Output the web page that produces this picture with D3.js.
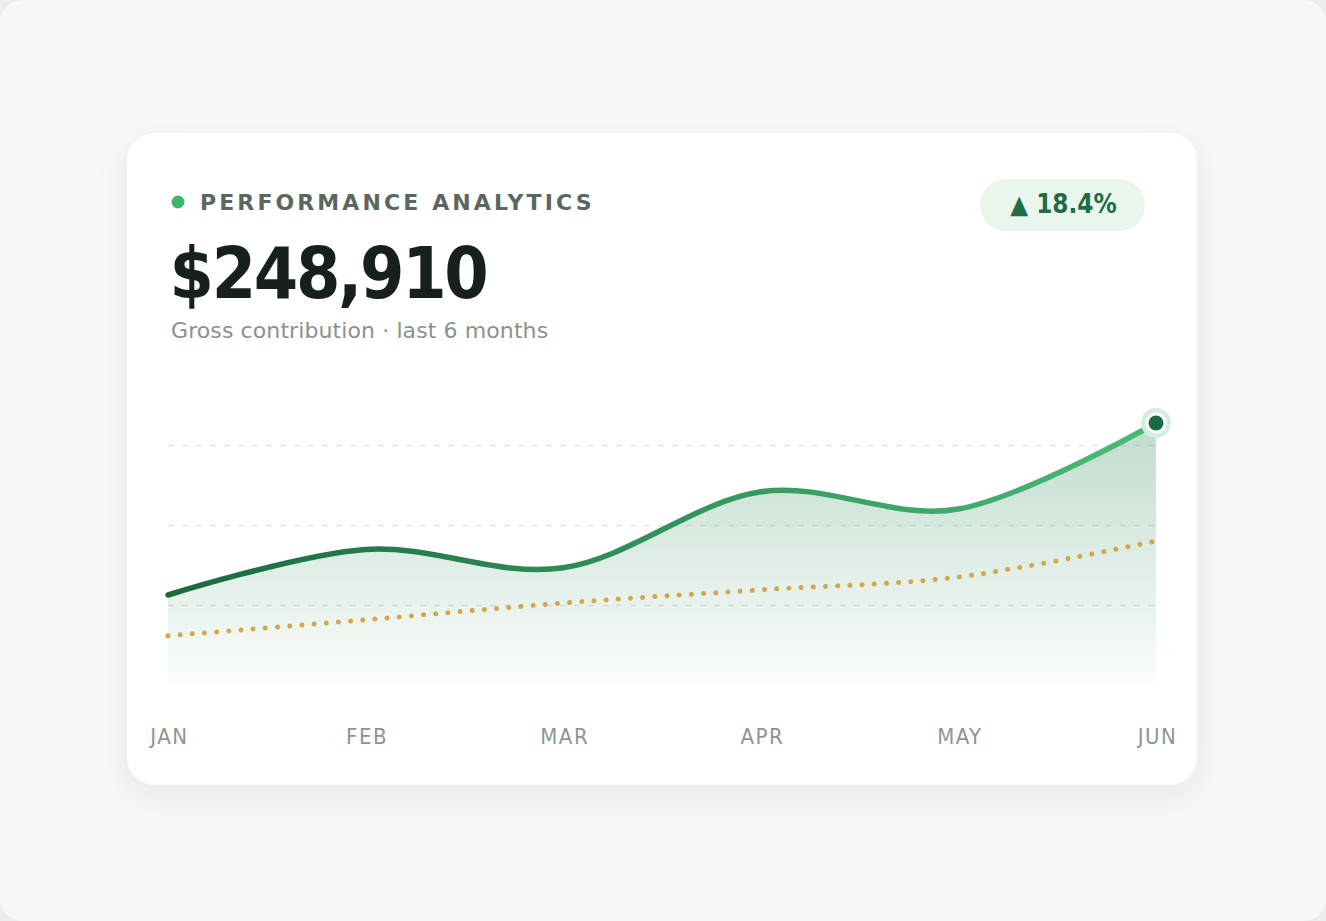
<!DOCTYPE html>
<html>
<head>
<meta charset="utf-8">
<script src="https://cdn.jsdelivr.net/npm/d3@7"></script>
<style>
  html, body { margin: 0; padding: 0; background: #ececec; }
  #frame { width: 1326px; height: 921px; border-radius: 22px; overflow: hidden; background: #f6f7f7; }
  svg { display: block; }
</style>
</head>
<body>
<div id="frame"><svg id="chart"></svg></div>
<script>
// ---- data ----
const months = ["JAN", "FEB", "MAR", "APR", "MAY", "JUN"];
const contribution = [22.5, 33.9, 29.3, 48.3, 44.0, 65.5];   // $K per month
const baseline = [12.3, 16.3, 20.5, 23.8, 27.0, 36.0];       // dotted comparison series
const gridTicks = [20, 40, 60];
const yMax = 80;

const title = "PERFORMANCE ANALYTICS";
const total = "$248,910";
const subtitle = "Gross contribution \u00b7 last 6 months";
const change = "\u25b2 18.4%";

// ---- setup ----
const w = 1326;
const h = 921;
const card = {x: 127, y: 133, w: 1070, h: 652, r: 28};
const plot = {left: 168, right: 1156, top: 365, bottom: 685};
const condensed = "'DejaVu Sans Condensed', 'DejaVu Sans'";

const svg = d3.select("#chart")
  .attr("width", w)
  .attr("height", h);

const defs = svg.append("defs");

const shadow = defs.append("filter")
  .attr("id", "cardShadow")
  .attr("x", "-10%").attr("y", "-10%")
  .attr("width", "120%").attr("height", "130%");
shadow.append("feDropShadow")
  .attr("dx", 0).attr("dy", 10)
  .attr("stdDeviation", 16)
  .attr("flood-color", "#1e3a2b")
  .attr("flood-opacity", 0.07);

// scales
const xScale = d3.scalePoint()
  .domain(months)
  .range([plot.left, plot.right]);

const yScale = d3.scaleLinear()
  .domain([0, yMax])
  .range([plot.bottom, plot.top]);

// gradients
const lineGrad = defs.append("linearGradient")
  .attr("id", "lineGrad")
  .attr("gradientUnits", "userSpaceOnUse")
  .attr("x1", plot.left).attr("x2", plot.right)
  .attr("y1", 0).attr("y2", 0);
lineGrad.append("stop").attr("offset", "0%").attr("stop-color", "#1b6a3f");
lineGrad.append("stop").attr("offset", "100%").attr("stop-color", "#4aba77");

const areaGrad = defs.append("linearGradient")
  .attr("id", "areaGrad")
  .attr("gradientUnits", "userSpaceOnUse")
  .attr("x1", 0).attr("x2", 0)
  .attr("y1", yScale(d3.max(contribution))).attr("y2", yScale(0));
areaGrad.append("stop").attr("offset", "0%").attr("stop-color", "#2e8b57").attr("stop-opacity", 0.30);
areaGrad.append("stop").attr("offset", "100%").attr("stop-color", "#2e8b57").attr("stop-opacity", 0.02);

// card
svg.append("rect")
  .attr("x", card.x).attr("y", card.y)
  .attr("width", card.w).attr("height", card.h)
  .attr("rx", card.r)
  .attr("fill", "#ffffff")
  .attr("filter", "url(#cardShadow)");

// ---- header ----
svg.append("circle")
  .attr("cx", 178).attr("cy", 202).attr("r", 6.5)
  .attr("fill", "#3fb56f");

svg.append("text")
  .attr("x", 200).attr("y", 210)
  .attr("fill", "#5b6660")
  .style("font", "bold 22px 'DejaVu Sans'")
  .style("letter-spacing", "3.1px")
  .text(title);

svg.append("text")
  .attr("x", 169.5).attr("y", 298)
  .attr("fill", "#17201b")
  .style("font-family", condensed)
  .style("font-weight", "bold")
  .style("font-size", "71px")
  .style("letter-spacing", "-2.3px")
  .text(total);

svg.append("text")
  .attr("x", 171).attr("y", 338)
  .attr("fill", "#8a928d")
  .style("font", "22px 'DejaVu Sans'")
  .style("letter-spacing", "0.1px")
  .text(subtitle);

// change badge
svg.append("rect")
  .attr("x", 980).attr("y", 179)
  .attr("width", 165).attr("height", 52)
  .attr("rx", 26)
  .attr("fill", "#e9f6ee");

svg.append("text")
  .attr("x", 1063.5).attr("y", 213)
  .attr("text-anchor", "middle")
  .attr("fill", "#1f6b45")
  .style("font-family", condensed)
  .style("font-weight", "bold")
  .style("font-size", "25.8px")
  .text(change);

// ---- grid ----
const grid = svg.append("g")
  .attr("transform", `translate(${plot.left},0)`)
  .call(d3.axisLeft(yScale)
    .tickValues(gridTicks)
    .tickSize(-(plot.right - plot.left))
    .tickFormat(""));
grid.select(".domain").remove();
grid.selectAll("line")
  .attr("stroke", "#e2e6e3")
  .attr("stroke-width", 1.5)
  .attr("stroke-dasharray", "6 8");

// ---- area + lines ----
const area = d3.area()
  .x((d, i) => xScale(months[i]))
  .y0(yScale(0))
  .y1(d => yScale(d))
  .curve(d3.curveCardinal);

const line = d3.line()
  .x((d, i) => xScale(months[i]))
  .y(d => yScale(d))
  .curve(d3.curveCardinal);

svg.append("path")
  .datum(contribution)
  .attr("d", area)
  .attr("fill", "url(#areaGrad)");

svg.append("path")
  .datum(baseline)
  .attr("d", line)
  .attr("fill", "none")
  .attr("stroke", "#d3a64a")
  .attr("stroke-width", 5)
  .attr("stroke-linecap", "round")
  .attr("stroke-dasharray", "0.01 12.2");

svg.append("path")
  .datum(contribution)
  .attr("d", line)
  .attr("fill", "none")
  .attr("stroke", "url(#lineGrad)")
  .attr("stroke-width", 5.5)
  .attr("stroke-linecap", "round");

// last point marker
const lastX = xScale(months[months.length - 1]);
const lastY = yScale(contribution[contribution.length - 1]);
svg.append("circle").attr("cx", lastX).attr("cy", lastY).attr("r", 15).attr("fill", "#d3eedf");
svg.append("circle").attr("cx", lastX).attr("cy", lastY).attr("r", 10.5).attr("fill", "#ffffff");
svg.append("circle").attr("cx", lastX).attr("cy", lastY).attr("r", 7.5).attr("fill", "#1c6a41");

// ---- x axis ----
const xAxis = svg.append("g")
  .attr("transform", `translate(0,${plot.bottom})`)
  .call(d3.axisBottom(xScale).tickSize(0).tickPadding(43));
xAxis.select(".domain").remove();
xAxis.selectAll("text")
  .attr("fill", "#8c9690")
  .attr("dx", "1px")
  .style("font-family", condensed)
  .style("font-size", "22px")
  .style("letter-spacing", "1.5px");
</script>
</body>
</html>
